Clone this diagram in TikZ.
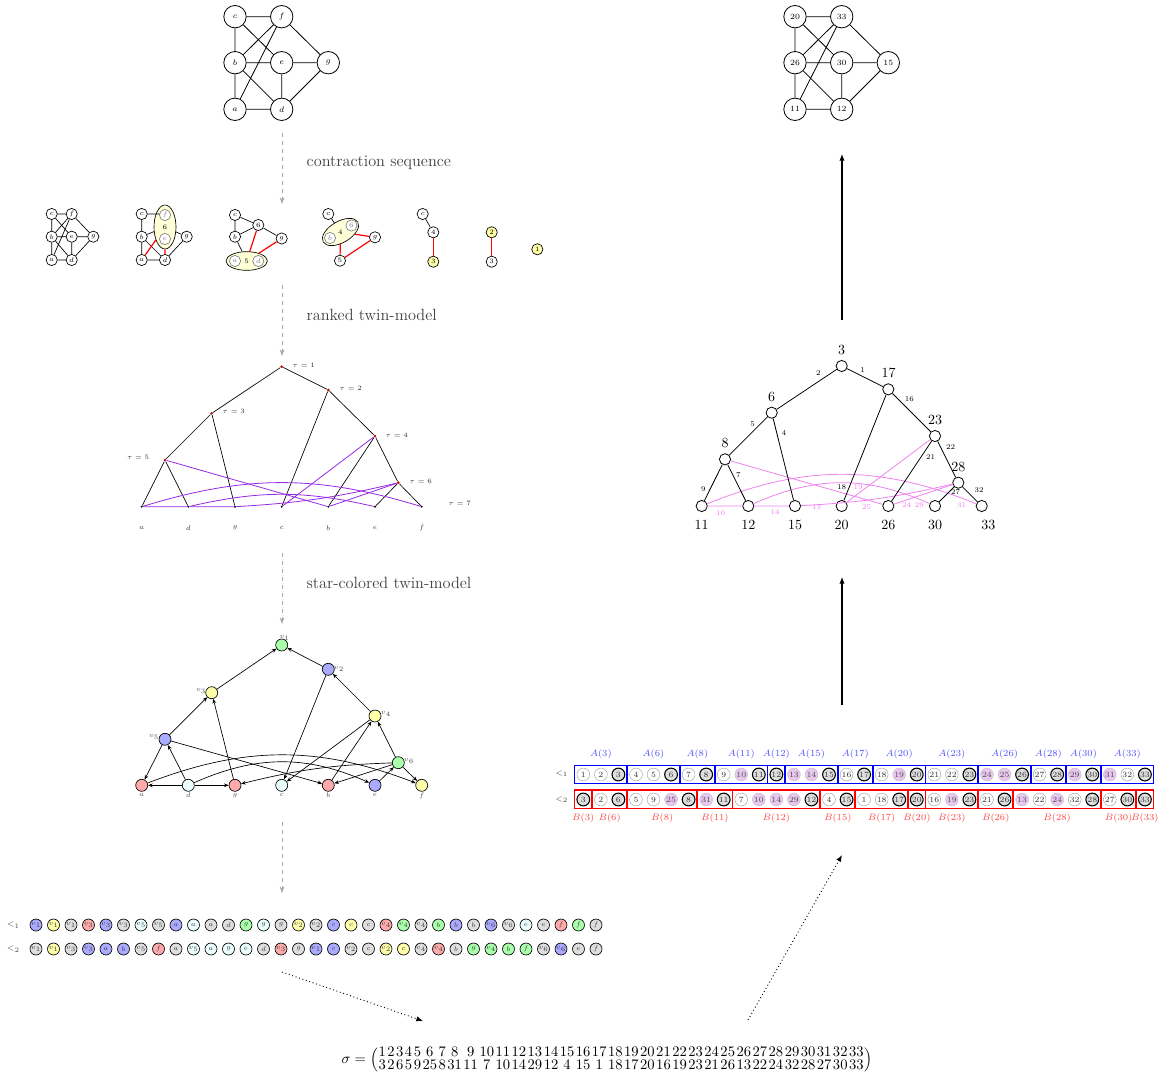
\documentclass[tikz,border=0pt]{standalone}
\usetikzlibrary{shapes.geometric,arrows.meta}
\definecolor{cblue}{RGB}{170,170,255}
\definecolor{cred}{RGB}{255,170,170}
\definecolor{cgreen}{RGB}{170,255,170}
\definecolor{cyellow}{RGB}{255,255,170}
\definecolor{ccyan}{RGB}{236,255,255}
\definecolor{cgray}{RGB}{222,222,222}
\definecolor{ellfill}{RGB}{255,255,215}
\definecolor{twc}{RGB}{150,40,230}
\definecolor{pkc}{RGB}{238,130,238}
\definecolor{pkfill}{RGB}{232,200,238}
\definecolor{ablue}{RGB}{80,80,255}
\definecolor{bred}{RGB}{255,70,70}
\begin{document}
\begin{tikzpicture}[x=0.75pt,y=-0.75pt,
  gv/.style={circle,draw,line width=0.6pt,minimum size=16.8pt,inner sep=0pt,fill=white,font=\fontsize{6}{6}\selectfont},
  ge/.style={line width=0.6pt},
  sv/.style={circle,draw,line width=0.5pt,fill=white,minimum size=8.4pt,inner sep=0pt,font=\fontsize{5}{5}\selectfont},
  svg/.style={sv,draw=gray,text=gray},
  svy/.style={sv,fill=cyellow},
  ellz/.style={ellipse,draw,line width=0.5pt,fill=ellfill,inner sep=0pt,font=\fontsize{5}{5}\selectfont},
  se/.style={line width=0.5pt},
  re/.style={red,line width=0.9pt},
  flow/.style={draw=gray!70,dashed,line width=0.6pt,-{Stealth[length=5pt,width=3.5pt]}},
  flowlab/.style={anchor=west,font=\fontsize{12.2}{13}\selectfont,text=black!75},
  tin/.style={circle,fill=red!75!black,minimum size=2.2pt,inner sep=0pt},
  tlf/.style={circle,fill=black,minimum size=1.6pt,inner sep=0pt},
  tlab/.style={font=\fontsize{5}{5}\selectfont,text=black!80},
  te/.style={line width=0.5pt},
  tp/.style={twc,line width=0.6pt},
  scn/.style={circle,draw,line width=0.5pt,minimum size=9pt,inner sep=0pt},
  sclab/.style={font=\fontsize{4.5}{4.5}\selectfont,text=black!70,inner sep=0.5pt},
  sa/.style={line width=0.5pt,-{Stealth[length=3.5pt,width=2.8pt]}},
  qn/.style={circle,draw,line width=0.5pt,minimum size=9pt,inner sep=0pt,font=\fontsize{4.5}{4.5}\selectfont,text=black!75},
  qlab/.style={font=\fontsize{6.5}{6.5}\selectfont,text=black!70},
  an/.style={circle,draw=gray!80,line width=0.3pt,fill=white,minimum size=9.6pt,inner sep=0pt,font=\fontsize{6}{6}\selectfont,text=black!80},
  av/.style={an,draw=black,line width=0.8pt,fill=cgray},
  ap/.style={an,draw=pkfill!70!gray,fill=pkfill,text=black!70},
  abox/.style={draw=blue,line width=1.1pt},
  bbox/.style={draw=red,line width=1.1pt},
  alab/.style={font=\fontsize{7}{7}\selectfont,text=ablue},
  blab/.style={font=\fontsize{7}{7}\selectfont,text=bred},
  rn/.style={circle,draw,line width=0.6pt,minimum size=8.4pt,inner sep=0pt,fill=white},
  rlab/.style={font=\fontsize{10.5}{10.5}\selectfont},
  rel/.style={font=\fontsize{5.5}{5.5}\selectfont},
  rpl/.style={font=\fontsize{5.5}{5.5}\selectfont,text=pkc},
  rp/.style={pkc,line width=0.6pt},
  bigarr/.style={line width=0.8pt,-{Latex[length=5pt,width=4pt]}},
  dotarr/.style={dotted,line width=0.7pt,-{Latex[length=5pt,width=4pt]}}
]
\useasboundingbox (0,0) rectangle (1160,1078);

% ---------- top-left graph
\node[gv] (c) at (235,16.7) {$c$};
\node[gv] (f) at (281.7,16.7) {$f$};
\node[gv] (b) at (235,62.7) {$b$};
\node[gv] (e) at (281.7,62.7) {$e$};
\node[gv] (g) at (328.3,62.7) {$g$};
\node[gv] (a) at (235,109.3) {$a$};
\node[gv] (d) at (281.7,109.3) {$d$};
\draw[ge] (c)--(f) (c)--(b) (c)--(e) (f)--(b) (f)--(a) (f)--(g) (b)--(e) (b)--(d) (b)--(a) (e)--(g) (e)--(d) (a)--(d) (d)--(g);

% ---------- top-right graph
\node[gv] (R20) at (795,16.7) {20};
\node[gv] (R33) at (841.7,16.7) {33};
\node[gv] (R26) at (795,62.7) {26};
\node[gv] (R30) at (841.7,62.7) {30};
\node[gv] (R15) at (888.3,62.7) {15};
\node[gv] (R11) at (795,109.3) {11};
\node[gv] (R12) at (841.7,109.3) {12};
\draw[ge] (R20)--(R33) (R20)--(R26) (R20)--(R30) (R33)--(R26) (R33)--(R11) (R33)--(R15) (R26)--(R30) (R26)--(R12) (R26)--(R11) (R30)--(R15) (R30)--(R12) (R11)--(R12) (R12)--(R15);

% ---------- flow arrows left
\coordinate (fa1) at (282,133); \coordinate (fb1) at (282,204);
\coordinate (fa2) at (282,285); \coordinate (fb2) at (282,356);
\coordinate (fa3) at (282,553); \coordinate (fb3) at (282,624);
\coordinate (fa4) at (282,822); \coordinate (fb4) at (282,893);
\draw[flow] (fa1)--(fb1);
\draw[flow] (fa2)--(fb2);
\draw[flow] (fa3)--(fb3);
\draw[flow] (fa4)--(fb4);
\node[flowlab] (L1) at (302,162.5) {contraction sequence};
\node[flowlab] (L2) at (302,314.5) {ranked twin-model};
\node[flowlab] (L3) at (302,582.5) {star-colored twin-model};

% ---------- contraction sequence: graph 1
\node[sv] (p1c) at (51.7,214) {$c$};
\node[sv] (p1f) at (71.7,214) {$f$};
\node[sv] (p1b) at (51.7,236.7) {$b$};
\node[sv] (p1e) at (71.7,236.7) {$e$};
\node[sv] (p1g) at (93.3,236.7) {$g$};
\node[sv] (p1a) at (51.7,260) {$a$};
\node[sv] (p1d) at (71.7,260) {$d$};
\draw[se] (p1c)--(p1f) (p1c)--(p1b) (p1c)--(p1e) (p1f)--(p1b) (p1f)--(p1a) (p1f)--(p1g) (p1b)--(p1e) (p1b)--(p1d) (p1b)--(p1a) (p1e)--(p1g) (p1e)--(p1d) (p1a)--(p1d) (p1d)--(p1g);

% graph 2
\node[ellz,minimum width=16.5pt,minimum height=33pt] (p2x) at (165,227) {6};
\node[sv] (p2c) at (141.7,214) {$c$};
\node[sv] (p2b) at (141.7,236.7) {$b$};
\node[sv] (p2g) at (186.7,236.7) {$g$};
\node[sv] (p2a) at (141.7,260) {$a$};
\node[sv] (p2d) at (165,260) {$d$};
\coordinate (p2ft) at (165,214);
\draw[se] (p2c)--(p2ft) (p2c)--(p2b) (p2b)--(p2x) (p2b)--(p2a) (p2b)--(p2d) (p2a)--(p2d) (p2d)--(p2g) (p2g)--(p2x);
\draw[re] (p2a)--(p2x) (p2d)--(p2x);
\node[svg] (p2f) at (165,215) {$f$};
\node[svg] (p2e) at (165,239) {$e$};

% graph 3
\node[ellz,minimum width=31pt,minimum height=14pt] (p3x) at (246.7,261) {5};
\node[svg] (p3a) at (235,261) {$a$};
\node[svg] (p3d) at (258.3,261) {$d$};
\node[sv] (p3c) at (235,215) {$c$};
\node[sv] (p36) at (258.3,225) {6};
\node[sv] (p3b) at (235,236.7) {$b$};
\node[sv] (p3g) at (281.7,238.5) {$g$};
\draw[se] (p3c)--(p36) (p3c)--(p3b) (p3b)--(p36) (p3b)--(p3x) (p36)--(p3g);
\draw[re] (p36)--(p3x) (p3g)--(p3x);

% graph 4
\node[ellz,minimum width=30pt,minimum height=16pt,rotate=30] (p4x) at (340.5,232) {\rotatebox{-30}{4}};
\node[svg] (p4b) at (330,238) {$b$};
\node[svg] (p46) at (351.5,225.5) {6};
\node[sv] (p4c) at (328.3,214) {$c$};
\node[sv] (p4g) at (375,237.3) {$g$};
\node[sv] (p45) at (340,260.7) {5};
\draw[se] (p4c)--(p4x);
\draw[re] (p4x)--(p4g) (p4x)--(p45) (p45)--(p4g);

% graph 5
\node[sv] (p5c) at (422.7,214) {$c$};
\node[sv] (p54) at (433.3,232.3) {4};
\node[svy] (p53) at (433.3,261.7) {3};
\draw[se] (p5c)--(p54);
\draw[re] (p54)--(p53);

% graph 6
\node[svy] (p62) at (491.7,232.3) {2};
\node[sv] (p63) at (491.7,261.7) {3};
\draw[re] (p62)--(p63);

% graph 7
\node[svy] (p71) at (537.3,249.3) {1};

% ---------- ranked twin-model
\node[tin] (t1) at (281.7,366.7) {};
\node[tin] (t2) at (328.3,390) {};
\node[tin] (t3) at (211.7,413.3) {};
\node[tin] (t4) at (375,436) {};
\node[tin] (t5) at (165,460) {};
\node[tin] (t6) at (398.3,482.7) {};
\foreach \n/\x in {a/141.7,d/188.3,g/235,c/281.7,b/328.3,e/375,f/421.7}{
  \node[tlf] (t\n) at (\x,506.7) {};
  \node[tlab] (tl\n) at (\x,527.7) {$\n$};
}
\node[tlab,anchor=west] (tt1) at (288,365) {$\tau=1$};
\node[tlab,anchor=west] (tt2) at (335,388) {$\tau=2$};
\node[tlab,anchor=west] (tt3) at (218,411) {$\tau=3$};
\node[tlab,anchor=west] (tt4) at (381,435) {$\tau=4$};
\node[tlab,anchor=east] (tt5) at (154,457.7) {$\tau=5$};
\node[tlab,anchor=west] (tt6) at (405,481) {$\tau=6$};
\node[tlab,anchor=west] (tt7) at (444,503) {$\tau=7$};
\draw[te] (t1)--(t3) (t1)--(t2) (t3)--(t5) (t3)--(tg) (t5)--(ta) (t5)--(td) (t2)--(tc) (t2)--(t4) (t4)--(tb) (t4)--(t6) (t6)--(te) (t6)--(tf);
\draw[tp] (ta)--(td) (td)--(tg) (t5)--(tb) (t4)--(tc) (tb)--(t6);
\draw[tp] (tg) to[bend right=5] (t6);
\draw[tp] (td) to[bend left=13] (te);
\draw[tp] (ta) to[bend left=17] (tf);

% ---------- star-colored twin-model
\node[scn,fill=cgreen] (s1) at (281.7,645) {};
\node[scn,fill=cblue] (s2) at (328.3,669.3) {};
\node[scn,fill=cyellow] (s3) at (211.7,692.7) {};
\node[scn,fill=cyellow] (s4) at (375,716) {};
\node[scn,fill=cblue] (s5) at (165,739.3) {};
\node[scn,fill=cgreen] (s6) at (398.3,762.7) {};
\node[scn,fill=cred] (sa) at (141.7,785.3) {};
\node[scn,fill=ccyan] (sd) at (188.3,785.3) {};
\node[scn,fill=cred] (sg) at (235,785.3) {};
\node[scn,fill=ccyan] (sc) at (281.7,785.3) {};
\node[scn,fill=cred] (sb) at (328.3,785.3) {};
\node[scn,fill=cblue] (se) at (375,785.3) {};
\node[scn,fill=cyellow] (sf) at (421.7,785.3) {};
\node[sclab] (sl1) at (284.5,638.5) {$v_1$};
\node[sclab,anchor=west] (sl2) at (333,669.3) {$v_2$};
\node[sclab,anchor=east] (sl3) at (207,691.5) {$v_3$};
\node[sclab,anchor=west] (sl4) at (380,714.5) {$v_4$};
\node[sclab,anchor=east] (sl5) at (160,737.5) {$v_5$};
\node[sclab,anchor=west] (sl6) at (403,761.5) {$v_6$};
\foreach \n/\x in {a/141.7,d/188.3,g/235,c/281.7,b/328.3,e/375,f/421.7}{
  \node[sclab] (sl\n) at (\x,795.5) {$\n$};
}
\draw[sa] (s3)--(s1);
\draw[sa] (s2)--(s1);
\draw[sa] (s5)--(s3);
\draw[sa] (sg)--(s3);
\draw[sa] (sd)--(s5);
\draw[sa] (s5)--(sa);
\draw[sa] (sd)--(sa);
\draw[sa] (sd)--(sg);
\draw[sa] (s2)--(sc);
\draw[sa] (s4)--(s2);
\draw[sa] (s4)--(sc);
\draw[sa] (sb)--(s4);
\draw[sa] (s6)--(s4);
\draw[sa] (se)--(s6);
\draw[sa] (s6)--(sf);
\draw[sa] (s6)--(sb);
\draw[sa] (s5)--(sb);
\draw[sa] (s6) to[bend right=6] (sg);
\draw[sa] (sd) to[bend left=24] (se);
\draw[sa] (sa) to[bend left=21] (sf);

% ---------- sequences
\node[qlab] (q1) at (13.3,925) {$<_1$};
\node[qlab] (q2) at (13.3,949) {$<_2$};
\foreach \l/\col [count=\i] in {v_1/cblue,v_1/cyellow,v_1/cgray,v_3/cred,v_3/cblue,v_3/cgray,v_5/ccyan,v_5/cgray,a/cblue,a/ccyan,a/cgray,d/cgray,g/cgreen,g/ccyan,g/cgray,v_2/cyellow,v_2/cgray,c/cblue,c/cyellow,c/cgray,v_4/cred,v_4/cgreen,v_4/cgray,b/cgreen,b/cblue,b/cgray,v_6/cblue,v_6/cgray,e/ccyan,e/cgray,f/cred,f/cgreen,f/cgray}{
  \node[qn,fill=\col] (qa\i) at ({36+17.5*(\i-1)},925) {$\l$};
}
\foreach \l/\col [count=\i] in {v_1/cgray,v_1/cyellow,v_3/cgray,v_3/cblue,a/cblue,b/cblue,v_5/cgray,f/cred,a/cgray,v_5/ccyan,a/ccyan,g/ccyan,e/ccyan,d/cgray,v_3/cred,g/cgray,v_1/cblue,c/cblue,v_2/cgray,c/cgray,v_2/cyellow,c/cyellow,v_4/cgray,v_4/cred,b/cgray,g/cgreen,v_4/cgreen,b/cgreen,f/cgreen,v_6/cgray,v_6/cblue,e/cgray,f/cgray}{
  \node[qn,fill=\col] (qb\i) at ({36+17.5*(\i-1)},949) {$\l$};
}

% ---------- sigma
\coordinate (da1) at (282,972); \coordinate (db1) at (423,1021);
\draw[dotarr] (da1)--(db1);
\node (sig) at (607,1060) {\fontsize{11}{13}\selectfont$\sigma=\setlength\arraycolsep{0.55pt}\renewcommand\arraystretch{0.72}\left(\begin{array}{*{33}{c}}
1&2&3&4&5&6&7&8&9&10&11&12&13&14&15&16&17&18&19&20&21&22&23&24&25&26&27&28&29&30&31&32&33\\
3&2&6&5&9&25&8&31&11&7&10&14&29&12&4&15&1&18&17&20&16&19&23&21&26&13&22&24&32&28&27&30&33
\end{array}\right)$};
\coordinate (da2) at (748,1020); \coordinate (db2) at (842,855);
\draw[dotarr] (da2)--(db2);

% ---------- A/B blocks
\node[qlab] (ql1) at (561.7,773.5) {$<_1$};
\node[qlab] (ql2) at (561.7,799.5) {$<_2$};
\foreach \n/\s [count=\i] in {1/an,2/an,3/av,4/an,5/an,6/av,7/an,8/av,9/an,10/ap,11/av,12/av,13/ap,14/ap,15/av,16/an,17/av,18/an,19/ap,20/av,21/an,22/an,23/av,24/ap,25/ap,26/av,27/an,28/av,29/ap,30/av,31/ap,32/an,33/av}{
  \node[\s] (ua\i) at ({583.3+17.55*(\i-1)},774.5) {\n};
}
\foreach \n/\s [count=\i] in {3/av,2/an,6/av,5/an,9/an,25/ap,8/av,31/ap,11/av,7/an,10/ap,14/ap,29/ap,12/av,4/an,15/av,1/an,18/an,17/av,20/av,16/an,19/ap,23/av,21/an,26/av,13/ap,22/an,24/ap,32/an,28/av,27/an,30/av,33/av}{
  \node[\s] (ub\i) at ({583.3+17.55*(\i-1)},799.5) {\n};
}
\foreach \p/\q/\t in {1/3/3,4/6/6,7/8/8,9/11/11,12/12/12,13/15/15,16/17/17,18/20/20,21/23/23,24/26/26,27/28/28,29/30/30,31/33/33}{
  \draw[abox] ({583.3+17.55*(\p-1)-8.6},765.5) rectangle ({583.3+17.55*(\q-1)+8.6},783.5);
  \node[alab] (al\t) at ({583.3+17.55*(\p+\q-2)/2},754) {$A(\t)$};
}
\foreach \p/\q/\t in {1/1/3,2/3/6,4/7/8,8/9/11,10/14/12,15/16/15,17/19/17,20/20/20,21/23/23,24/25/26,26/30/28,31/32/30,33/33/33}{
  \draw[bbox] ({583.3+17.55*(\p-1)-8.6},790) rectangle ({583.3+17.55*(\q-1)+8.6},808.5);
  \node[blab] (bl\t) at ({583.3+17.55*(\p+\q-2)/2},818.5) {$B(\t)$};
}

% ---------- right tree
\node[rn] (r3) at (841.7,366) {};
\node[rn] (r17) at (888.3,389.3) {};
\node[rn] (r6) at (771.7,412.7) {};
\node[rn] (r23) at (935,436) {};
\node[rn] (r8) at (725,459.3) {};
\node[rn] (r28) at (958.3,482.7) {};
\foreach \n/\x in {11/701.7,12/748.3,15/795,20/841.7,26/888.3,30/935,33/981.7}{
  \node[rn] (r\n) at (\x,506) {};
}
\foreach \n/\x/\y in {3/841.7/350,17/888.7/373,6/771.7/397,23/935/420,8/725/443,28/958.3/466.7,11/701.7/525,12/748.3/525,15/795/525,20/841.7/525,26/888.3/525,30/935/525,33/988.3/525}{
  \node[rlab] (rl\n) at (\x,\y) {\n};
}
\draw[rp] (r11)--(r12) (r12)--(r15) (r8)--(r26) (r23)--(r20) (r26)--(r28);
\draw[rp] (r15) to[bend right=5] (r28);
\draw[rp] (r12) to[bend left=24] (r30);
\draw[rp] (r11) to[bend left=22] (r33);
\draw[te,line width=0.6pt] (r3)--(r6) (r3)--(r17) (r6)--(r8) (r6)--(r15) (r8)--(r11) (r8)--(r12) (r17)--(r20) (r17)--(r23) (r23)--(r26) (r23)--(r28) (r28)--(r30) (r28)--(r33);
\foreach \t/\x/\y in {2/818.3/373.3,1/862.7/370,16/909.3/399.3,5/752.7/424.3,4/784/433.3,22/950.7/447.3,21/930.7/456.7,9/703.3/489.3,7/738.3/475,18/841.7/486.7,32/979/490,27/955.7/491.7}{
  \node[rel] (re\t) at (\x,\y) {\t};
}
\foreach \t/\x/\y in {19/858/486.7,10/720.7/512.7,14/775/511.7,13/816.7/507.3,25/866.7/506.7,24/906.7/505,29/919.3/505,31/961.7/505}{
  \node[rpl] (rp\t) at (\x,\y) {\t};
}

% ---------- right arrows
\coordinate (ra1) at (842,320); \coordinate (rb1) at (842,154);
\coordinate (ra2) at (842,705); \coordinate (rb2) at (842,577);
\draw[bigarr] (ra1)--(rb1);
\draw[bigarr] (ra2)--(rb2);
\end{tikzpicture}
\end{document}
